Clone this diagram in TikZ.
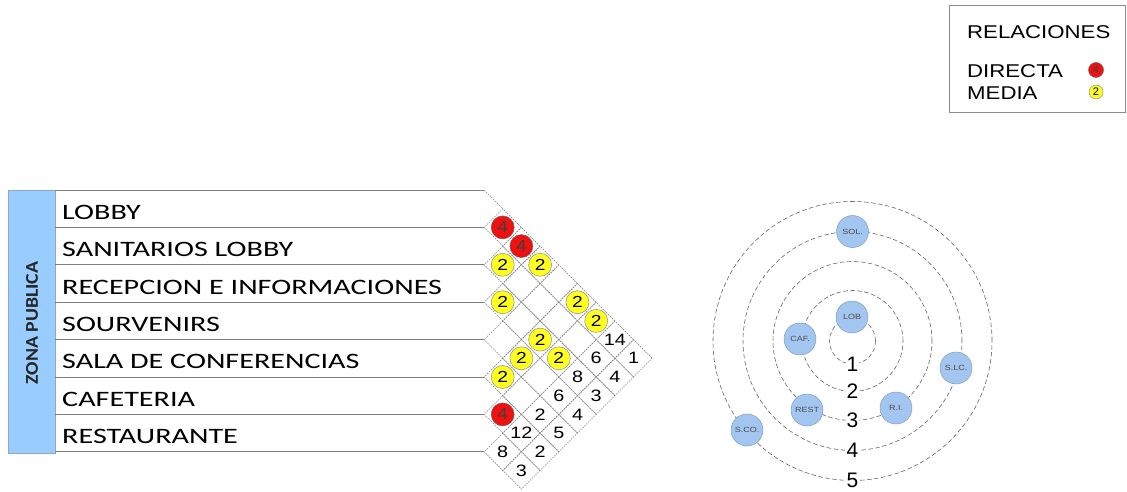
\documentclass[tikz,border=0pt]{standalone}
\usepackage{fontspec}
\setmainfont{Liberation Sans}
\newfontfamily\rowfont[FakeStretch=1.37]{Carlito}
\newfontfamily\zonafont[FakeStretch=1.1]{Carlito}
\newfontfamily\arialw[FakeStretch=1.2]{Liberation Sans}
\newfontfamily\arialn{Liberation Sans}
\usetikzlibrary{shapes.geometric}
\definecolor{gridgray}{HTML}{8C8C8C}
\definecolor{linegray}{HTML}{7F7F7F}
\definecolor{zonablue}{HTML}{99CCFF}
\definecolor{zonaedge}{HTML}{8FA8C8}
\definecolor{bubblue}{HTML}{A2C6F0}
\definecolor{bubedge}{HTML}{7F9CC0}
\definecolor{relred}{HTML}{F01010}
\definecolor{relyellow}{HTML}{FFFF20}
\begin{document}
\begin{tikzpicture}[x=1pt,y=-1pt,
  cell/.style={diamond, draw=gridgray, dash pattern=on 1.6pt off 1pt, line width=0.6pt,
    minimum width=37.4pt, minimum height=37.4pt, inner sep=0pt},
  rowline/.style={draw=linegray, line width=0.7pt},
  rowlabel/.style={anchor=base west, inner sep=0pt, font=\rowfont\fontsize{22}{22}\selectfont},
  numtxt/.style={inner sep=0pt, font=\arialw\fontsize{16.5}{16.5}\selectfont},
  relfour/.style={circle, fill=relred, draw=black!60, line width=0.5pt, minimum size=23pt, inner sep=0pt,
    font=\arialw\fontsize{16}{16}\selectfont, text=black!75},
  reltwo/.style={circle, fill=relyellow, draw=black!45, line width=0.5pt, minimum size=23pt, inner sep=0pt,
    font=\arialw\fontsize{16}{16}\selectfont},
  ring/.style={draw=black!60, line width=0.6pt, dash pattern=on 4.5pt off 2.5pt},
  ringnum/.style={fill=white, inner sep=0.3pt, font=\arialn\fontsize{21}{21}\selectfont},
  bub/.style={circle, fill=bubblue, draw=bubedge, line width=0.5pt, minimum size=32pt, inner sep=0pt,
    font=\arialw\fontsize{7.5}{7.5}\selectfont, text=black!70},
  legtxt/.style={anchor=base west, inner sep=0pt, font=\arialw\fontsize{18.5}{18.5}\selectfont},
]
\useasboundingbox (0,0) rectangle (1127,492);
\def\xo{484}
\def\bo{190}
\def\hh{37.4}
% zone bar
\draw[fill=zonablue, draw=zonaedge, line width=0.6pt] (8,190) rectangle (55,452.8);
\node[rotate=90, inner sep=0pt, text=black!85, font=\zonafont\bfseries\fontsize{18}{18}\selectfont] (zona) at (32,323) {ZONA PUBLICA};
% row lines
\foreach \k in {0,...,7} {
  \pgfmathsetmacro\by{\bo+\k*\hh}
  \draw[rowline] (55,\by) -- (\xo,\by);
}
\draw[draw=gridgray, dash pattern=on 1.6pt off 1pt, line width=0.6pt] (\xo,\bo) -- (\xo+\hh/2,\bo+\hh/2);
% row labels
\foreach \t [count=\k] in {LOBBY,SANITARIOS LOBBY,RECEPCION E INFORMACIONES,SOURVENIRS,SALA DE CONFERENCIAS,CAFETERIA,RESTAURANTE} {
  \pgfmathsetmacro\ly{\bo+(\k-0.5)*\hh+10.5}
  \node[rowlabel] (row\k) at (62,\ly) {\t};
}
% matrix cells
\foreach \i in {1,...,7} {
  \pgfmathtruncatemacro\js{\i+1}
  \foreach \j in {\js,...,9} {
    \pgfmathsetmacro\cx{\xo+(\j-\i)*\hh/2}
    \pgfmathsetmacro\cy{\bo+((\i+\j)/2-0.5)*\hh}
    \node[cell] (d\i\j) at (\cx,\cy) {};
  }
}
% relations
\foreach \c in {12,13,67} { \node[relfour] (c\c) at (d\c) {4}; }
\foreach \c in {23,14,34,16,17,36,46,37,56} { \node[reltwo] (c\c) at (d\c) {2}; }
% numbers
\foreach \c/\v in {18/14,19/1,28/6,29/4,38/8,39/3,48/6,49/4,58/2,59/5,68/12,69/2,78/8,79/3} {
  \node[numtxt] (n\c) at (d\c) {\v};
}
% rings
\coordinate (ctr) at (852.5,341);
\foreach \r in {23,50.5,79.5,109.5,139.5} { \draw[ring] (ctr) circle[radius=\r pt]; }
\node[ringnum] (r1) at (852.5,364) {1};
\node[ringnum] (r2) at (852.5,391.5) {2};
\node[ringnum] (r3) at (852.5,420.5) {3};
\node[ringnum] (r4) at (852.5,450.5) {4};
\node[ringnum] (r5) at (852.5,480.5) {5};
% bubbles
\node[bub] (sol) at (852.5,231.5) {SOL.};
\node[bub] (lob) at (852,317) {LOB};
\node[bub] (caf) at (800,339) {CAF.};
\node[bub] (slc) at (956,368) {S.LC.};
\node[bub] (rest) at (807,410) {REST};
\node[bub] (ri) at (896,408) {R.I.};
\node[bub] (sco) at (747,430) {S.CO.};
% legend
\draw[draw=black!45, line width=0.7pt] (949,5) rectangle (1125,112);
\node[legtxt] (lt) at (967,38.3) {RELACIONES};
\node[legtxt] (ld) at (967,78) {DIRECTA};
\node[legtxt] (lm) at (967,100) {MEDIA};
\node[relfour, minimum size=15pt, font=\arialn\fontsize{11}{11}\selectfont] (lr) at (1096,70) {4};
\node[reltwo, minimum size=14pt, font=\arialn\fontsize{11}{11}\selectfont] (ly) at (1096,92) {2};
\end{tikzpicture}
\end{document}
